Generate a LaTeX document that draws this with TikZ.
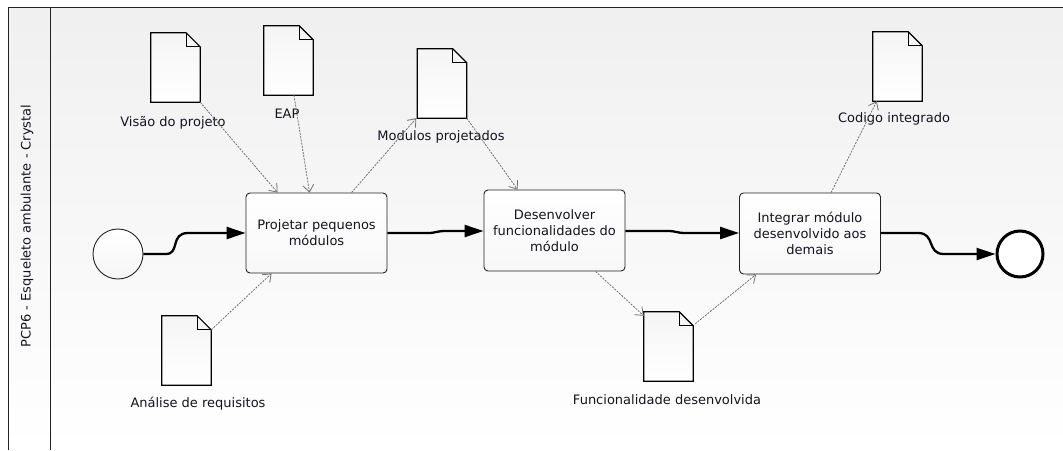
\documentclass[tikz,border=0pt]{standalone}
\usepackage{fontspec}
\setmainfont{DejaVu Sans}
\usetikzlibrary{arrows.meta}
\definecolor{ink}{HTML}{141420}
\definecolor{assoc}{HTML}{707070}
\definecolor{frameline}{HTML}{222222}
\begin{document}
\begin{tikzpicture}[x=1pt,y=-1pt,
  every node/.style={font=\fontsize{13}{16}\selectfont, text=ink},
  task/.style={draw=frameline, line width=0.9pt, rounded corners=4pt,
    top color=white, bottom color=black!3, minimum width=141pt,
    minimum height=80pt, align=center, inner sep=2pt},
  docbox/.style={minimum width=49pt, minimum height=69pt, inner sep=0pt},
  doclabel/.style={inner sep=1pt},
  seqflow/.style={line width=2.3pt, black, -{Triangle[length=19pt,width=12pt]}},
  assocflow/.style={assoc, line width=0.8pt, dash pattern=on 2pt off 1.2pt,
    -{Straight Barb[length=7pt,width=11pt,line width=0.8pt]}},
]
\useasboundingbox (0,0) rectangle (1063,450);

% pool with its lane header
\shade[top color=black!6, bottom color=white] (8,7.5) rectangle (1063,450);
\draw[frameline, line width=1pt] (1063,7.5) -- (8,7.5) -- (8,450);
\draw[frameline, line width=1pt] (50,7.5) -- (50,450);
\node[rotate=90] (pool) at (27,226) {PCP6 - Esqueleto ambulante - Crystal};

% events
\node[circle, draw=frameline, line width=0.9pt, top color=white, bottom color=black!4,
  minimum size=50pt, inner sep=0pt] (start) at (118,254) {};
\node[circle, draw=black, line width=3pt, fill=white,
  minimum size=46pt, inner sep=0pt] (end) at (1020,254) {};

% activities
\node[task] (proj) at (316.5,233) {Projetar pequenos\\módulos};
\node[task, minimum height=81pt] (dev) at (554.5,230.5) {Desenvolver\\funcionalidades do\\módulo};
\node[task, minimum height=81pt] (int) at (810,233.5) {Integrar módulo\\desenvolvido aos\\demais};

% data objects
\node[docbox] (vis) at (175.5,67.5) {};
\node[docbox] (eap) at (288.5,60.5) {};
\node[docbox] (mod) at (442,83.5) {};
\node[docbox] (ana) at (186.5,350.5) {};
\node[docbox] (fun) at (668.5,346.5) {};
\node[docbox] (cod) at (897.5,66.5) {};
\foreach \d in {vis,eap,mod,ana,fun,cod}{
  \shade[top color=black!4, bottom color=white]
    (\d.south west) -- (\d.north west) -- ([xshift=-14pt]\d.north east)
    -- ([yshift=-14pt]\d.north east) -- (\d.south east) -- cycle;
  \draw[black, line width=1.2pt, line join=miter]
    (\d.south west) -- (\d.north west) -- ([xshift=-14pt]\d.north east)
    -- ([yshift=-14pt]\d.north east) -- (\d.south east) -- cycle;
  \draw[black, line width=1.2pt] ([xshift=-14pt]\d.north east)
    |- ([yshift=-14pt]\d.north east);
}
\node[doclabel] (visl) at (173,123) {Visão do projeto};
\node[doclabel] (eapl) at (287,114) {EAP};
\node[doclabel] (modl) at (441,137) {Modulos projetados};
\node[doclabel] (anal) at (198,404) {Análise de requisitos};
\node[doclabel] (funl) at (667,400) {Funcionalidade desenvolvida};
\node[doclabel] (codl) at (894,119) {Codigo integrado};

% sequence flows
\draw[seqflow] (start.east) -- (166,254)
  .. controls (180,254) and (170,233) .. (188,233) -- (proj.west);
\draw[seqflow] (proj.east) -- (428,233)
  .. controls (436,233) and (436,231) .. (446,231) -- (dev.west |- 0,231);
\draw[seqflow] (dev.east |- 0,231) -- (668,231)
  .. controls (676,231) and (676,233) .. (686,233) -- (int.west |- 0,233);
\draw[seqflow] (int.east |- 0,233) -- (918,233)
  .. controls (936,233) and (926,254) .. (944,254) -- (end.west);

% data associations
\draw[assocflow] (vis.south east) -- ([xshift=32pt]proj.north west);
\draw[assocflow] ([xshift=5.5pt]eap.south) -- ([xshift=64pt]proj.north west);
\draw[assocflow] ([xshift=106pt]proj.north west) -- ([xshift=-1pt]mod.south west);
\draw[assocflow] (mod.south east) -- ([xshift=34pt]dev.north west);
\draw[assocflow] ([yshift=-14pt]ana.north east) -- ([xshift=26pt]proj.south west);
\draw[assocflow] ([xshift=112pt]dev.south west) -- ([yshift=-4pt]fun.north west);
\draw[assocflow] ([yshift=-12pt,xshift=2pt]fun.north east) -- ([xshift=17pt]int.south west);
\draw[assocflow] ([xshift=92pt]int.north west) -- ([xshift=4pt]cod.south west);
\end{tikzpicture}
\end{document}
